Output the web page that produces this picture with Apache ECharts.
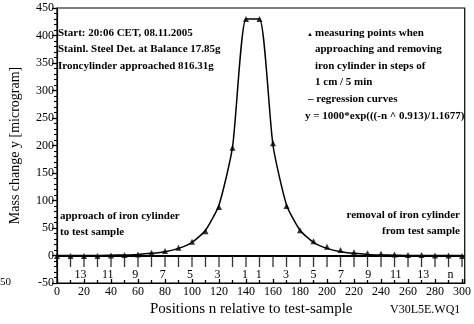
<!DOCTYPE html>
<html>
<head>
<meta charset="utf-8">
<script src="https://cdn.jsdelivr.net/npm/echarts@6/dist/echarts.min.js"></script>
<style>
  html, body { margin: 0; padding: 0; background: #fff; }
  #chart { width: 474px; height: 324px; }
</style>
</head>
<body>
<div id="chart"></div>
<script>
// measuring points (triangles), position on the scale and mass change
const measX = [0, 10, 20, 30, 40, 50, 60, 70, 80, 90, 100, 110, 120, 130, 140,
  150, 160, 170, 180, 190, 200, 210, 220, 230, 240, 250, 260, 270, 280, 290, 300]
const measY = [-1, -1, -1, -1, 0, 1, 2, 5, 8, 14, 25, 44, 88, 196, 430,
  430, 204, 90, 46, 26, 16, 10, 6, 4, 3, 2, 1, 1, 0, 0, -1]

// regression curve
const curveX = [0, 10, 20, 30, 40, 50, 60, 70, 80, 90, 100, 110, 120, 130, 140,
  150, 160, 170, 180, 190, 200, 210, 220, 230, 240, 250, 260, 270, 280, 290, 300]
const curveY = [0, 0, 0, 0, 0.5, 1, 2, 4, 7, 13, 24, 46, 92, 197, 430,
  430, 200, 92, 46, 24, 13, 7, 4, 2, 1, 0.5, 0, 0, 0, 0, 0]

// n scale on the zero line: tick positions and their labels
const nTicks = [0, 10, 20, 30, 40, 50, 60, 70, 80, 90, 100, 110, 120, 130, 140,
  150, 160, 170, 180, 190, 200, 210, 220, 230, 240, 250, 260, 270, 280, 290, 300]
const nTickPos = [20, 40, 60, 80, 100, 120, 140, 150, 170, 190, 210, 230, 250, 270, 290]
const nTickLabels = ['13', '11', '9', '7', '5', '3', '1', '1', '3', '5', '7', '9', '11', '13', 'n']

const font = 'Liberation Serif'
const ink = '#000'

const chart = echarts.init(document.getElementById('chart'))

const note = (pos, text, extra) => Object.assign({
  type: 'text',
  style: Object.assign({ text, fontFamily: font, fontSize: 11, fontWeight: 'bold', fill: ink }, extra || {})
}, pos)

chart.setOption({
  animation: false,
  grid: [
    { left: 53, right: 7, top: 8, bottom: 41, show: true, borderColor: ink, borderWidth: 1.2 },
    // strip just under y = 0 of the main grid, only carries the n labels
    { left: 53, right: 7, top: 256, height: 11 }
  ],
  xAxis: [{
    type: 'value', min: 0, max: 302, interval: 20,
    axisLine: { onZero: false, lineStyle: { color: ink, width: 1.2 } },
    axisTick: { inside: true, length: 4, lineStyle: { color: ink, width: 1.3 } },
    minorTick: { show: true, splitNumber: 2, length: 3, lineStyle: { color: ink, width: 1.3 } },
    axisLabel: {
      color: ink, fontFamily: font, fontSize: 12, margin: 3,
      formatter: v => (v % 20 === 0 ? String(v) : '')
    },
    splitLine: { show: false }
  }, {
    gridIndex: 1, type: 'value', min: 0, max: 302, interval: 10, position: 'bottom',
    axisLine: { show: false, onZero: false },
    axisTick: { show: false },
    axisLabel: {
      color: ink, fontFamily: font, fontSize: 12, margin: 2,
      formatter: v => {
        const i = nTickPos.indexOf(v)
        return i >= 0 ? nTickLabels[i] : ''
      }
    },
    splitLine: { show: false }
  }],
  yAxis: [{
    type: 'value', min: -50, max: 450, interval: 50,
    name: 'Mass change y [microgram]', nameLocation: 'middle', nameGap: 35,
    nameTextStyle: { color: ink, fontFamily: font, fontSize: 14 },
    axisLine: { lineStyle: { color: ink, width: 1.2 } },
    axisTick: { length: 5, lineStyle: { color: ink, width: 1.3 } },
    minorTick: { show: true, splitNumber: 5, length: 3, lineStyle: { color: ink, width: 1.1 } },
    axisLabel: { color: ink, fontFamily: font, fontSize: 12, margin: 3 },
    splitLine: { show: false }
  }, {
    gridIndex: 1, type: 'value', show: false, splitLine: { show: false }
  }],
  series: [{
    name: 'regression curves', type: 'line', xAxisIndex: 0, yAxisIndex: 0,
    data: curveX.map((x, i) => [x, curveY[i]]),
    smooth: 0.2, symbol: 'none',
    lineStyle: { color: ink, width: 1.5 },
    markLine: {
      silent: true, symbol: 'none', label: { show: false },
      lineStyle: { color: ink, width: 2, type: 'solid' },
      data: [{ yAxis: 0 }]
    }
  }, {
    // tick marks of the n scale hanging below the zero line
    name: 'n ticks', type: 'scatter', xAxisIndex: 0, yAxisIndex: 0,
    data: nTicks.map(x => [x, 0]),
    symbol: 'rect', symbolSize: [1.3, 11], symbolOffset: [0, 6],
    itemStyle: { color: ink }, silent: true
  }, {
    name: 'measuring points', type: 'scatter', xAxisIndex: 0, yAxisIndex: 0,
    data: measX.map((x, i) => [x, measY[i]]),
    symbol: 'triangle', symbolSize: 6,
    itemStyle: { color: ink }
  }],
  graphic: [
    note({ left: 58, top: 28 }, 'Start: 20:06 CET, 08.11.2005'),
    note({ left: 58, top: 44 }, 'Stainl. Steel Det. at Balance 17.85g'),
    note({ left: 58, top: 61 }, 'Ironcylinder approached 816.31g'),
    note({ left: 307, top: 31 }, '▲', { fontSize: 6 }),
    note({ left: 315, top: 28 }, 'measuring points when'),
    note({ left: 315, top: 44 }, 'approaching and removing'),
    note({ left: 315, top: 61 }, 'iron cylinder in steps of'),
    note({ left: 315, top: 77 }, '1 cm / 5 min'),
    note({ left: 308, top: 94 }, '– regression curves'),
    note({ left: 305, top: 111 }, 'y = 1000*exp(((-n ^ 0.913)/1.1677)'),
    note({ left: 60, top: 211 }, 'approach of iron cylinder'),
    note({ left: 60, top: 227 }, 'to test sample'),
    note({ right: 14, top: 210 }, 'removal of iron cylinder'),
    note({ right: 14, top: 226 }, 'from test sample'),
    note({ left: 150, top: 302 }, 'Positions n relative to test-sample', { fontSize: 15, fontWeight: 'normal' }),
    note({ left: 390, top: 304 }, 'V30L5E.WQ1', { fontSize: 12, fontWeight: 'normal' }),
    note({ left: 0, top: 277 }, '50', { fontWeight: 'normal' })
  ]
})
</script>
</body>
</html>
